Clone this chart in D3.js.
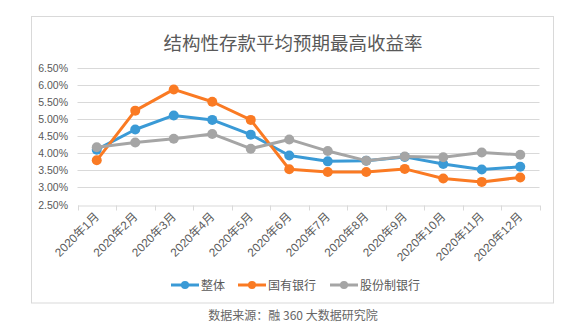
<!DOCTYPE html>
<html><head><meta charset="utf-8">
<script src="https://cdn.jsdelivr.net/npm/d3@7"></script>
<style>html,body{margin:0;padding:0;background:#fff;}svg{display:block;}</style>
</head><body>
<script>
const categories = ["2020年1月","2020年2月","2020年3月","2020年4月","2020年5月","2020年6月","2020年7月","2020年8月","2020年9月","2020年10月","2020年11月","2020年12月"];
const seriesNames = ["整体","国有银行","股份制银行"];
const overall = [4.10,4.69,5.10,4.97,4.54,3.93,3.76,3.78,3.89,3.68,3.52,3.60];
const stateOwned = [3.79,5.24,5.86,5.50,4.97,3.53,3.45,3.45,3.54,3.26,3.16,3.29];
const joinStock = [4.17,4.31,4.42,4.56,4.13,4.40,4.06,3.78,3.90,3.88,4.02,3.95];
const yTicks = [2.5,3.0,3.5,4.0,4.5,5.0,5.5,6.0,6.5];
const colors = ["#3A9AD6","#FA7A23","#A5A5A5"];
const title = "结构性存款平均预期最高收益率";
const source = "数据来源：融 360 大数据研究院";

const W = 578, H = 328;
const svg = d3.select("body").append("svg").attr("width", W).attr("height", H);
const font = "'Liberation Sans', Arial, 'Noto Sans CJK SC', sans-serif";
const cjk = "'Noto Sans CJK SC', sans-serif";

svg.append("rect").attr("x", 31.5).attr("y", 16.5).attr("width", 522).attr("height", 286.5)
  .attr("fill", "#fff").attr("stroke", "#D9D9D9").attr("stroke-width", 1);

svg.append("text").attr("x", 293).attr("y", 50).attr("text-anchor", "middle")
  .attr("font-family", cjk).attr("font-size", 18.5).attr("fill", "#595959").text(title);

const x = d3.scaleBand().domain(categories).range([77.5, 539.5]);
const y = d3.scaleLinear().domain([2.5, 6.5]).range([204.5, 67.5]);

// gridlines
svg.append("g").selectAll("line").data(yTicks.slice(1)).join("line")
  .attr("x1", 77.5).attr("x2", 539.5)
  .attr("y1", d => Math.round(y(d)) + 0.5).attr("y2", d => Math.round(y(d)) + 0.5)
  .attr("stroke", "#D9D9D9").attr("stroke-width", 1);

// y labels
svg.append("g").selectAll("text").data(yTicks).join("text")
  .attr("x", 68).attr("y", d => y(d) + 4).attr("text-anchor", "end")
  .attr("font-family", font).attr("font-size", 10.5).attr("fill", "#595959")
  .text(d => d.toFixed(2) + "%");

// x axis
const xAxis = d3.axisBottom(x).tickSize(0).tickFormat("");
const gx = svg.append("g").attr("transform", `translate(0,${Math.round(y(2.5)) + 0.5})`).call(xAxis);
gx.select(".domain").attr("stroke", "#D9D9D9");
const bounds = categories.map(c => x(c)).concat([x.range()[1]]);
gx.selectAll(".btick").data(bounds).join("line").attr("class","btick")
  .attr("x1", d => Math.round(d) + 0.5).attr("x2", d => Math.round(d) + 0.5)
  .attr("y1", 0).attr("y2", 5).attr("stroke", "#D9D9D9");

svg.append("g").selectAll("text").data(categories).join("text")
  .attr("transform", d => `translate(${x(d) + x.bandwidth()/2 + 3},${y(2.5) + 13}) rotate(-45)`)
  .attr("text-anchor", "end")
  .attr("font-family", font).attr("font-size", 11.8).attr("fill", "#595959")
  .text(d => d);

// series
const data = [overall, stateOwned, joinStock];
const line = d3.line().x((d, i) => x(categories[i]) + x.bandwidth()/2).y(d => y(d));
data.forEach((s, k) => {
  const g = svg.append("g");
  g.append("path").datum(s).attr("d", line).attr("fill", "none")
    .attr("stroke", colors[k]).attr("stroke-width", 3).attr("stroke-linejoin", "round");
  g.selectAll("circle").data(s).join("circle")
    .attr("cx", (d, i) => x(categories[i]) + x.bandwidth()/2).attr("cy", d => y(d))
    .attr("r", 5).attr("fill", colors[k]);
});

// legend
const legX = [171, 238, 330];
const lg = svg.append("g");
seriesNames.forEach((n, k) => {
  lg.append("line").attr("x1", legX[k]).attr("x2", legX[k] + 28).attr("y1", 285).attr("y2", 285)
    .attr("stroke", colors[k]).attr("stroke-width", 3);
  lg.append("circle").attr("cx", legX[k] + 14).attr("cy", 285).attr("r", 4).attr("fill", colors[k]);
  lg.append("text").attr("x", legX[k] + 30).attr("y", 289.5).attr("font-family", cjk)
    .attr("font-size", 12).attr("fill", "#595959").text(n);
});

svg.append("text").attr("x", 293).attr("y", 320).attr("text-anchor", "middle")
  .attr("font-family", cjk).attr("font-size", 12).attr("fill", "#666").text(source);
</script>
</body></html>
